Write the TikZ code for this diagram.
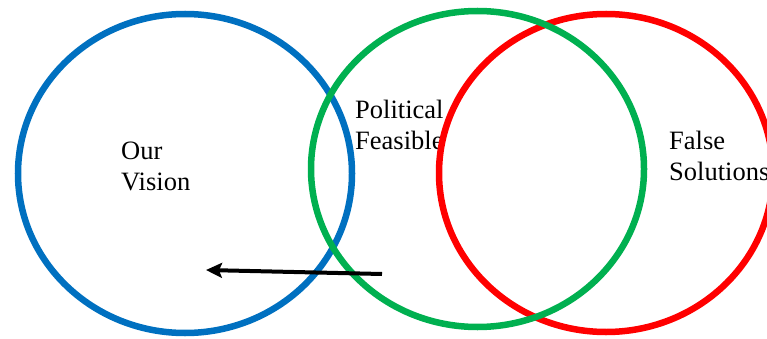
\documentclass[tikz,border=0pt]{standalone}
\usepackage{fontspec}
\setmainfont{Liberation Serif}
\usetikzlibrary{arrows.meta}
\definecolor{visionblue}{RGB}{0,112,192}
\definecolor{feasgreen}{RGB}{0,176,80}
\definecolor{falsered}{RGB}{255,0,0}
\begin{document}
\begin{tikzpicture}[x=1pt, y=-1pt,
    ring/.style={line width=6.5pt},
    label/.style={anchor=north west, inner sep=0pt, align=left,
      font=\fontsize{26.5}{31}\selectfont}]
  \useasboundingbox (0,0) rectangle (767,339);
  % the three sets
  \draw[ring, visionblue] (185,173.5) ellipse [x radius=167, y radius=159.5];
  \node[label] (vision) at (121,142) {Our\\Vision};
  \node[label] (feasible) at (355,100) {Political\\Feasible};
  \node[label] (false) at (669,131) {False\\Solutions};
  \draw[ring, falsered] (606,173) ellipse [x radius=167, y radius=159];
  \draw[ring, feasgreen] (477.5,169) ellipse [x radius=166.5, y radius=158];
  % move towards the vision
  \coordinate (tail) at (382,274);
  \coordinate (head) at (206,270);
  \draw[line width=4pt, -{Stealth[length=16pt, width=15pt, inset=3pt]}] (tail) -- (head);
\end{tikzpicture}
\end{document}
